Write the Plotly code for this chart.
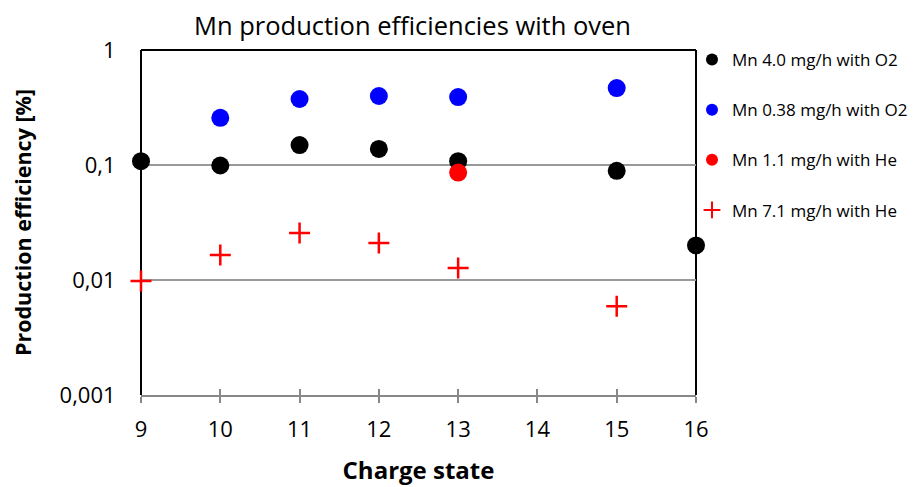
import plotly.graph_objects as go

black_x = [9, 10, 11, 12, 13, 15, 16]
black_y = [0.108, 0.099, 0.149, 0.138, 0.108, 0.089, 0.020]
blue_x = [10, 11, 12, 13, 15]
blue_y = [0.257, 0.375, 0.398, 0.390, 0.467]
red_x = [13]
red_y = [0.086]
plus_x = [9, 10, 11, 12, 13, 15]
plus_y = [0.0098, 0.0165, 0.0256, 0.021, 0.0127, 0.0059]

ytick_vals = [0.001, 0.01, 0.1, 1]
ytick_text = ["0,001", "0,01", "0,1", "1"]
xtick_vals = [9, 10, 11, 12, 13, 14, 15, 16]

FONT = "Open Sans"
W, H = 916, 479  # page body adds an 8px offset

fig = go.Figure()
fig.add_trace(go.Scatter(x=black_x, y=black_y, mode="markers", name="Mn 4.0 mg/h with O2",
                         legendgroup="a", marker=dict(color="black", size=18), cliponaxis=False))
fig.add_trace(go.Scatter(x=blue_x, y=blue_y, mode="markers", name="Mn 0.38 mg/h with O2",
                         legendgroup="b", marker=dict(color="#0000ff", size=18), cliponaxis=False))
fig.add_trace(go.Scatter(x=red_x, y=red_y, mode="markers", name="Mn 1.1 mg/h with He",
                         legendgroup="c", marker=dict(color="#ff0000", size=18), cliponaxis=False))
fig.add_trace(go.Scatter(x=plus_x, y=plus_y, mode="markers", name="Mn 7.1 mg/h with He",
                         legendgroup="d",
                         marker=dict(symbol="cross-thin", color="#ff0000", size=15,
                                     line=dict(color="#ff0000", width=2.5)), cliponaxis=False))

fig.update_layout(
    width=W, height=H,
    margin=dict(l=133, r=227, t=42, b=92),
    paper_bgcolor="white", plot_bgcolor="white",
    font=dict(family=FONT, color="black"),
    title=dict(text="Mn production efficiencies with oven", x=0.4416, xanchor="center",
               y=0.962, yanchor="middle", font=dict(size=25.5, family=FONT)),
    showlegend=True,
    legend=dict(x=0.991, xanchor="left", y=1.023, yanchor="top", itemsizing="constant",
                tracegroupgap=25, font=dict(size=17, family=FONT), itemwidth=30,
                bgcolor="rgba(0,0,0,0)"),
    xaxis=dict(range=[9, 16], tickvals=xtick_vals, showgrid=False, zeroline=False,
               showline=True, linecolor="#888888", linewidth=2, automargin=False,
               ticks="outside", ticklen=6, tickcolor="#888888", tickwidth=1.5,
               tickfont=dict(size=22), ticklabelstandoff=8,
               title=dict(text="<b>Charge state</b>", font=dict(size=24), standoff=20)),
    xaxis2=dict(range=[9, 16], tickvals=xtick_vals, overlaying="x", side="bottom",
                showgrid=False, zeroline=False, showline=False, showticklabels=False,
                automargin=False,
                ticks="inside", ticklen=6, tickcolor="#888888", tickwidth=1.5, matches="x"),
    yaxis=dict(type="log", range=[-3, 0], tickvals=ytick_vals, ticktext=ytick_text,
               showgrid=True, gridcolor="#999999", gridwidth=1.5, zeroline=False,
               showline=False, ticks="outside", ticklen=20, tickcolor="rgba(0,0,0,0)",
               tickfont=dict(size=22), automargin=False,
               title=dict(text="<b>Production efficiency [%]</b>", font=dict(size=21.5), standoff=23)),
)
fig.add_trace(go.Scatter(x=[None], y=[None], xaxis="x2", showlegend=False, hoverinfo="skip"))

for x0, y0, x1, y1 in [(0, 0, 0, 1), (0, 1, 1, 1), (1, 0, 1, 1)]:
    fig.add_shape(type="line", xref="paper", yref="paper", x0=x0, y0=y0, x1=x1, y1=y1,
                  line=dict(color="black", width=2), layer="below")

fig.write_html("out.html")
